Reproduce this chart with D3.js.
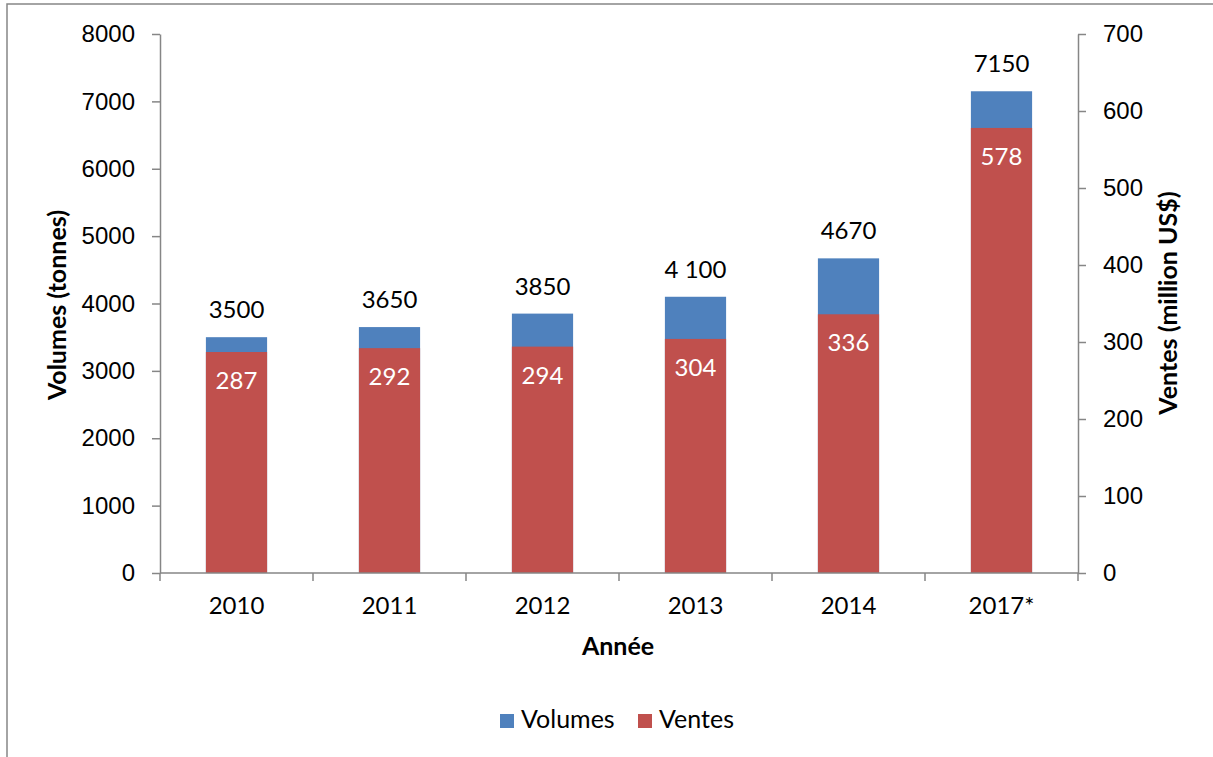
<!DOCTYPE html>
<html lang="fr">
<head>
    <meta charset="UTF-8">
    <title>Volumes et ventes</title>
    <script src="https://d3js.org/d3.v7.min.js"></script>
    <style>
        body { margin: 0; background: #fff; }
        svg { font-family: Lato, "Open Sans", Arial, sans-serif; }
        .axis path, .axis line { stroke: #868686; stroke-width: 1.5px; }
        .axis text { font-size: 24px; fill: #000; }
        .title { font-size: 25px; font-weight: bold; fill: #000; }
    </style>
</head>
<body>
<script>
    // Data
    const years = ["2010", "2011", "2012", "2013", "2014", "2017*"];
    const volumes = [3500, 3650, 3850, 4100, 4670, 7150];
    const volumeLabels = ["3500", "3650", "3850", "4 100", "4670", "7150"];
    const ventes = [287, 292, 294, 304, 336, 578];
    const leftTicks = [0, 1000, 2000, 3000, 4000, 5000, 6000, 7000, 8000];
    const rightTicks = [0, 100, 200, 300, 400, 500, 600, 700];

    const W = 1213, H = 757;
    const plot = { left: 160, right: 1078, top: 34, bottom: 573 };
    const blue = "#4f81bd", red = "#c0504d";

    const svg = d3.select("body").append("svg")
        .attr("width", W)
        .attr("height", H);

    // outer chart border (runs off the right and bottom edges)
    svg.append("rect")
        .attr("x", 7).attr("y", 4)
        .attr("width", 1400).attr("height", 900)
        .attr("fill", "none")
        .attr("stroke", "#868686")
        .attr("stroke-width", 1.5);

    const x = d3.scaleBand().domain(years).range([plot.left, plot.right]);
    const yL = d3.scaleLinear().domain([0, 8000]).range([plot.bottom, plot.top]);
    const yR = d3.scaleLinear().domain([0, 700]).range([plot.bottom, plot.top]);
    const barW = x.bandwidth() * 0.4;
    const cx = d => x(d) + x.bandwidth() / 2;

    // Volumes bars (left axis)
    svg.selectAll(".vol").data(years).join("rect")
        .attr("class", "vol")
        .attr("x", d => cx(d) - barW / 2)
        .attr("y", (d, i) => yL(volumes[i]))
        .attr("width", barW)
        .attr("height", (d, i) => yL(0) - yL(volumes[i]))
        .attr("fill", blue);

    // Ventes bars (right axis), drawn over the volumes
    svg.selectAll(".ven").data(years).join("rect")
        .attr("class", "ven")
        .attr("x", d => cx(d) - barW / 2)
        .attr("y", (d, i) => yR(ventes[i]))
        .attr("width", barW)
        .attr("height", (d, i) => yR(0) - yR(ventes[i]))
        .attr("fill", red);

    // labels
    svg.selectAll(".vlab").data(years).join("text")
        .attr("x", cx)
        .attr("y", (d, i) => yL(volumes[i]) - 19)
        .attr("text-anchor", "middle")
        .attr("font-size", 24)
        .attr("fill", "#000")
        .text((d, i) => volumeLabels[i]);

    svg.selectAll(".slab").data(years).join("text")
        .attr("x", cx)
        .attr("y", (d, i) => yR(ventes[i]) + 37)
        .attr("text-anchor", "middle")
        .attr("font-size", 24)
        .attr("fill", "#fff")
        .text((d, i) => ventes[i]);

    // axes
    svg.append("g")
        .attr("class", "axis")
        .attr("transform", `translate(${plot.left},0)`)
        .call(d3.axisLeft(yL).tickValues(leftTicks).tickFormat(d3.format("d"))
            .tickSize(8).tickSizeOuter(0).tickPadding(17));

    svg.append("g")
        .attr("class", "axis")
        .attr("transform", `translate(${plot.right},0)`)
        .call(d3.axisRight(yR).tickValues(rightTicks).tickFormat(d3.format("d"))
            .tickSize(8).tickSizeOuter(0).tickPadding(17));

    const xg = svg.append("g").attr("class", "axis");
    xg.append("line")
        .attr("x1", plot.left).attr("x2", plot.right)
        .attr("y1", plot.bottom).attr("y2", plot.bottom);
    xg.selectAll(".xt").data(years.concat([null])).join("line")
        .attr("x1", d => d === null ? plot.right : x(d))
        .attr("x2", d => d === null ? plot.right : x(d))
        .attr("y1", plot.bottom).attr("y2", plot.bottom + 8);
    xg.selectAll(".xl").data(years).join("text")
        .attr("x", cx)
        .attr("y", 614)
        .attr("text-anchor", "middle")
        .text(d => d);

    // axis titles
    svg.append("text").attr("class", "title")
        .attr("transform", "translate(57,305) rotate(-90)")
        .attr("dy", "0.35em")
        .attr("text-anchor", "middle")
        .text("Volumes (tonnes)");

    svg.append("text").attr("class", "title")
        .attr("transform", "translate(1168,303) rotate(-90)")
        .attr("dy", "0.35em")
        .attr("text-anchor", "middle")
        .text("Ventes (million US$)");

    svg.append("text").attr("class", "title")
        .attr("x", 618).attr("y", 655)
        .attr("text-anchor", "middle")
        .text("Année");

    // legend
    const legend = [["Volumes", blue, 500], ["Ventes", red, 638]];
    const lg = svg.selectAll(".leg").data(legend).join("g")
        .attr("transform", d => `translate(${d[2]},714)`);
    lg.append("rect").attr("width", 14).attr("height", 14).attr("fill", d => d[1]);
    lg.append("text")
        .attr("x", 21).attr("y", 14)
        .attr("font-size", 25)
        .text(d => d[0]);
</script>
</body>
</html>
